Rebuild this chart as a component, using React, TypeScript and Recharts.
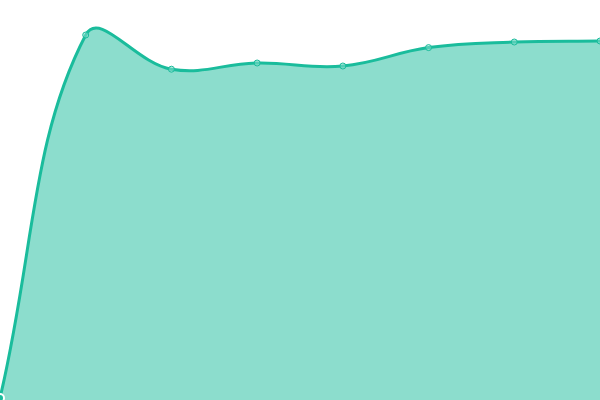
import React from "react";
import { AreaChart, Area, XAxis, YAxis } from "recharts";

const categories = ["A", "B", "C", "D", "E", "F", "G", "H"];
const values = [0.5, 91.25, 82.7, 84.25, 83.5, 88.1, 89.5, 89.75];

const data = categories.map((c, i) => ({ name: c, value: values[i] }));

const W = 600;
const H = 400;

// Tension-based spline (cubic Bezier with distance-weighted control points)
function splineCurve(tension: number) {
  return function (context: any) {
    let xs: number[] = [];
    let ys: number[] = [];
    let line: number = NaN;
    const clampX = (v: number) => Math.max(0, Math.min(W, v));
    const clampY = (v: number) => Math.max(0, Math.min(H, v));
    return {
      areaStart() {
        line = 0;
      },
      areaEnd() {
        line = NaN;
      },
      lineStart() {
        xs = [];
        ys = [];
      },
      point(x: number, y: number) {
        xs.push(+x);
        ys.push(+y);
      },
      lineEnd() {
        const n = xs.length;
        if (n > 0) {
          if (line) context.lineTo(xs[0], ys[0]);
          else context.moveTo(xs[0], ys[0]);
          const cps: { px: number; py: number; nx: number; ny: number }[] = [];
          for (let i = 0; i < n; i++) {
            const pi = i === 0 ? i : i - 1;
            const ni = i === n - 1 ? i : i + 1;
            const d01 = Math.hypot(xs[i] - xs[pi], ys[i] - ys[pi]);
            const d12 = Math.hypot(xs[ni] - xs[i], ys[ni] - ys[i]);
            let s01 = d01 / (d01 + d12);
            let s12 = d12 / (d01 + d12);
            if (isNaN(s01)) s01 = 0;
            if (isNaN(s12)) s12 = 0;
            const fa = tension * s01;
            const fb = tension * s12;
            const dx = xs[ni] - xs[pi];
            const dy = ys[ni] - ys[pi];
            cps.push({
              px: clampX(xs[i] - fa * dx),
              py: clampY(ys[i] - fa * dy),
              nx: clampX(xs[i] + fb * dx),
              ny: clampY(ys[i] + fb * dy),
            });
          }
          for (let i = 1; i < n; i++) {
            context.bezierCurveTo(
              cps[i - 1].nx,
              cps[i - 1].ny,
              cps[i].px,
              cps[i].py,
              xs[i],
              ys[i]
            );
          }
        }
        if (line || (line !== 0 && n === 1)) context.closePath();
        line = 1 - line;
      },
    };
  };
}

const curve = splineCurve(0.4);

export default function App() {
  return (
    <div style={{ position: "fixed", left: 0, top: 0, width: W, height: H, background: "#fff" }}>
      <AreaChart width={W} height={H} data={data} margin={{ top: 0, right: 0, bottom: 0, left: 0 }}>
        <XAxis dataKey="name" hide />
        <YAxis domain={[0, 100]} hide />
        <Area
          type={curve as any}
          dataKey="value"
          stroke="#1abc9c"
          strokeWidth={3}
          fill="#1abc9c"
          fillOpacity={0.5}
          dot={{ r: 3, fill: "#8ce0cf", stroke: "#1abc9c", strokeWidth: 1 }}
          isAnimationActive={false}
        />
      </AreaChart>
    </div>
  );
}
